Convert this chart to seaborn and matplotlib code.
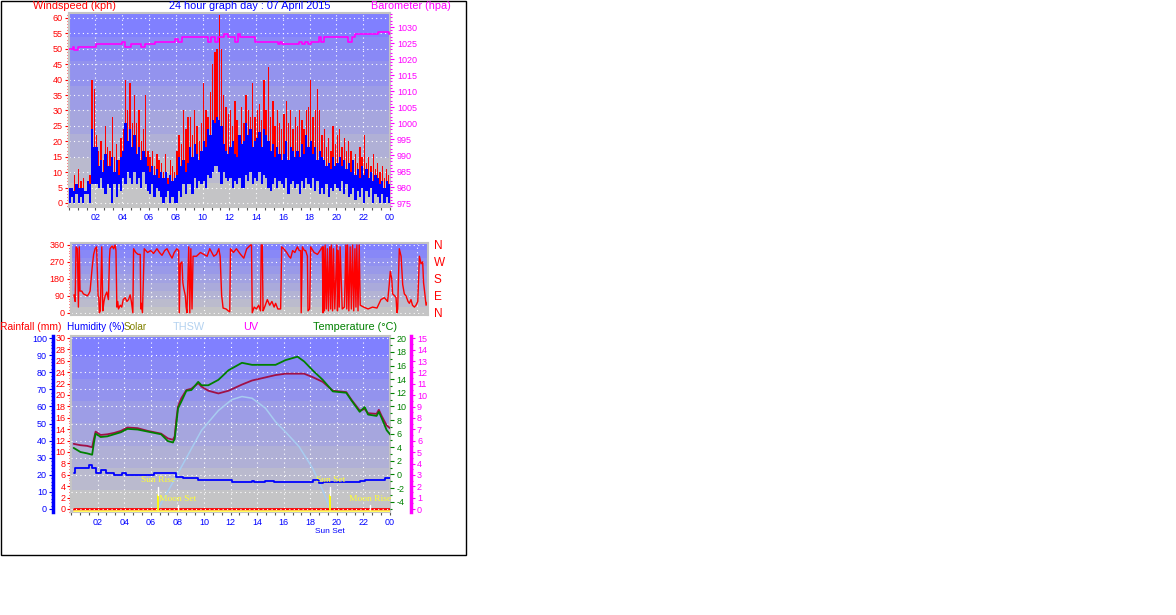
import numpy as np
import matplotlib
matplotlib.use("Agg")
import matplotlib.pyplot as plt
import matplotlib.transforms as mtransforms
from matplotlib.patches import Rectangle
from matplotlib.ticker import MultipleLocator, FixedLocator
import seaborn as sns

sns.set_style("white")
plt.rcParams['font.family'] = ['Liberation Sans', 'DejaVu Sans']
plt.rcParams['axes.unicode_minus'] = False

# ---------------- data ----------------
# wind, one value per 10 minutes (6 per hour)
gust_kph = [
    7, 5, 9, 6, 11, 7,      8, 4, 6, 9, 40, 37,     22, 17, 20, 14, 25, 18,
    17, 28, 15, 19, 14, 21, 24, 40, 30, 39, 26, 35, 26, 30, 20, 24, 35, 17,
    15, 17, 12, 16, 14, 13, 10, 16, 8, 14, 12, 10,  17, 22, 19, 30, 24, 28,
    28, 22, 30, 25, 20, 26, 39, 30, 28, 36, 45, 49, 50, 61, 50, 35, 31, 29,
    30, 25, 33, 27, 22, 31, 26, 35, 30, 28, 39, 28, 30, 32, 27, 40, 30, 44,
    28, 33, 25, 30, 26, 24, 29, 33, 26, 30, 24, 28, 25, 30, 27, 24, 30, 31,
    40, 28, 30, 37, 30, 22, 24, 18, 21, 17, 25, 19, 22, 24, 18, 21, 17, 20,
    17, 14, 16, 13, 18, 15, 22, 13, 15, 12, 16, 11, 13, 10, 12, 8, 11, 9,
]
avg_lo_kph = [
    0, 2, 0, 3, 0, 2,   0, 3, 3, 0, 6, 6,   6, 5, 8, 5, 3, 6,
    5, 0, 6, 2, 6, 4,   8, 6, 10, 8, 6, 10, 6, 8, 5, 10, 6, 4,
    3, 6, 2, 5, 4, 2,   0, 2, 4, 0, 2, 0,   0, 4, 2, 6, 3, 6,
    6, 3, 8, 5, 7, 6,   7, 5, 9, 8, 10, 12, 12, 10, 6, 10, 8, 7,
    8, 5, 7, 6, 8, 5,   5, 9, 7, 10, 6, 8,  7, 10, 6, 9, 8, 5,
    4, 6, 8, 5, 7, 6,   5, 8, 3, 6, 7, 5,   6, 3, 7, 5, 8, 6,
    5, 8, 4, 7, 3, 5,   3, 6, 2, 5, 4, 6,   5, 4, 7, 3, 6, 2,
    3, 5, 1, 4, 2, 5,   0, 4, 2, 5, 0, 3,   2, 0, 3, 0, 2, 0,
]
avg_hi_kph = [
    5, 5, 4, 6, 5, 5,       5, 4, 7, 6, 24, 18,     18, 12, 14, 10, 16, 12,
    12, 15, 10, 14, 9, 15,  17, 26, 20, 24, 18, 22, 16, 18, 14, 17, 15, 12,
    10, 12, 9, 11, 8, 10,   8, 10, 6, 9, 7, 8,      9, 15, 12, 14, 10, 13,
    18, 15, 19, 16, 14, 17, 20, 18, 24, 22, 27, 26, 28, 27, 25, 19, 17, 16,
    18, 20, 16, 15, 22, 19, 20, 26, 22, 24, 18, 20, 21, 23, 18, 24, 22, 20,
    17, 19, 15, 18, 16, 14, 16, 20, 14, 18, 17, 15, 17, 15, 19, 16, 22, 18,
    20, 16, 18, 14, 17, 15, 14, 12, 13, 11, 15, 12, 13, 15, 12, 14, 11, 13,
    10, 14, 9, 11, 8, 12,   9, 11, 8, 10, 7, 9,      8, 6, 7, 5, 7, 6,
]

baro_hours = [0.0, 0.3, 0.4, 0.73, 2.06, 4.0, 4.18, 4.63, 5.43, 5.69, 6.44,
              7.95, 8.15, 8.45, 10.41, 10.62, 10.92, 11.12, 11.62, 11.87,
              12.4, 12.63, 12.8, 13.94, 15.65, 15.82, 15.95, 17.21, 17.41,
              17.66, 17.86, 18.09, 18.67, 18.84, 19.09, 20.86, 21.18, 21.38,
              23.12, 23.95, 24.0]
baro_hpa = [1023.0, 1023.7, 1022.8, 1023.7, 1024.6, 1025.4, 1023.7, 1024.6,
            1023.7, 1024.6, 1025.4, 1026.4, 1025.4, 1026.8, 1025.4, 1026.8,
            1025.4, 1026.8, 1027.7, 1026.8, 1025.4, 1027.7, 1026.8, 1025.4,
            1024.6, 1025.4, 1024.6, 1025.4, 1024.6, 1025.4, 1024.6, 1025.4,
            1026.8, 1025.4, 1026.8, 1025.4, 1026.8, 1027.7, 1028.5, 1027.7,
            1027.7]

dir_hours = [0.22, 0.3, 0.36, 0.45, 0.52, 0.58, 0.63, 0.75, 0.86, 1.0, 1.13,
             1.22, 1.31, 1.45, 1.55, 1.65, 1.75, 1.85, 1.9, 1.94, 2.0, 2.1,
             2.17, 2.25, 2.33, 2.44, 2.55, 2.62, 2.66, 2.8, 2.9, 3.0, 3.06,
             3.12, 3.18, 3.23, 3.35, 3.45, 3.55, 3.68, 3.8, 3.91, 4.02, 4.1,
             4.2, 4.25, 4.4, 4.55, 4.7, 4.74, 4.77, 4.85, 4.97, 5.2, 5.4, 5.6,
             5.83, 6.0, 6.17, 6.35, 6.51, 6.7, 6.85, 7.0, 7.18, 7.3, 7.34,
             7.41, 7.52, 7.58, 7.64, 7.75, 7.8, 7.86, 7.98, 8.05, 8.12, 8.2,
             8.27, 8.5, 8.77, 9.0, 9.22, 9.4, 9.67, 9.85, 10.01, 10.1, 10.2,
             10.3, 10.5, 10.65, 10.75, 10.8, 11.0, 11.2, 11.48, 11.7, 11.9,
             12.16, 12.22, 12.27, 12.4, 12.55, 12.7, 12.83, 12.88, 12.95, 13.0,
             13.06, 13.2, 13.29, 13.45, 13.6, 13.75, 13.85, 14.0, 14.19, 14.26,
             14.4, 14.6, 14.75, 14.87, 15.0, 15.15, 15.32, 15.45, 15.55, 15.58,
             15.66, 15.8, 15.88, 16.0, 16.04, 16.15, 16.22, 16.45, 16.68,
             16.85, 17.01, 17.05, 17.08, 17.15, 17.2, 17.28, 17.35, 17.42,
             17.51, 17.57, 17.62, 17.7, 17.76, 17.85, 17.99, 18.03, 18.08,
             18.15, 18.21, 18.35, 18.5, 18.6, 18.66, 18.71, 18.8, 18.89, 18.97,
             19.05, 19.13, 19.21, 19.28, 19.34, 19.42, 19.5, 19.57, 19.8, 20.1,
             20.4, 20.7, 20.97, 21.2, 21.42, 21.53, 21.6, 21.7, 21.76, 21.9,
             21.99, 22.05, 22.1, 22.21, 22.33, 22.44, 22.55, 22.66, 22.8,
             22.89, 23.0, 23.1, 23.23, 23.34, 23.46, 23.57, 23.68, 23.79,
             23.85, 23.91, 24.02, 24.13]
dir_deg = [95, 60, 350, 340, 30, 350, 115, 115, 100, 95, 90,
           100, 115, 240, 310, 340, 350, 90, 80, 0, 10, 350,
           10, 60, 90, 110, 70, 290, 340, 355, 340, 360, 330,
           30, 60, 20, 40, 30, 70, 80, 60, 70, 95, 60,
           0, 340, 320, 310, 310, 20, 50, 0, 340, 320, 330, 315,
           340, 320, 305, 330, 340, 310, 290, 320, 340, 330, 0,
           260, 270, 160, 130, 90, 30, 0, 350, 0, 340, 20,
           300, 300, 320, 310, 300, 340, 300, 310, 340, 300, 95,
           25, 20, 10, 5, 340, 320, 340, 310, 290, 340,
           360, 360, 0, 30, 20, 40, 10, 360, 360, 10,
           20, 50, 70, 40, 60, 30, 50, 20, 20, 350,
           340, 320, 300, 290, 330, 320, 350, 330, 330, 0,
           350, 330, 330, 300, 10, 20, 350, 320, 310,
           330, 350, 0, 350, 10, 360, 20, 340, 10,
           350, 20, 360, 10, 340, 20, 360, 10, 330,
           30, 350, 20, 30, 360, 20, 360, 10, 350, 20,
           360, 10, 340, 30, 360, 10, 360, 40, 30, 20,
           30, 25, 70, 80, 60, 150, 220, 180, 100, 90,
           80, 0, 20, 340, 300, 150, 100, 90, 60,
           50, 70, 40, 30, 40, 60, 300, 260, 270,
           160, 120, 40, 60]

temp_hours = [0.2, 0.71, 1.21, 1.59, 1.72, 1.85, 2.23, 2.73, 3.24, 3.75, 4.25,
              5.01, 5.77, 6.78, 7.29, 7.67, 7.8, 7.92, 8.05, 8.3, 8.68, 9.06,
              9.57, 9.82, 10.33, 11.09, 11.85, 12.86, 13.62, 15.39, 16.15,
              17.04, 17.54, 18.18, 18.94, 19.7, 20.71, 21.09, 21.72, 22.1,
              22.35, 22.99, 23.16, 23.37, 23.75, 24.13]
temp_c = [3.9, 3.3, 3.1, 2.9, 4.6, 6.0, 5.5, 5.6, 5.9, 6.2, 6.7,
          6.6, 6.3, 5.9, 4.9, 4.7, 5.2, 7.3, 9.7, 10.7, 12.3, 12.4,
          13.6, 13.1, 13.1, 13.9, 15.3, 16.4, 16.1, 16.1, 16.8,
          17.3, 16.6, 15.3, 13.9, 12.2, 12.0, 10.9, 9.2, 9.9,
          8.8, 8.6, 9.2, 8.3, 6.5, 5.6]
heat_c = [4.5, 4.3, 4.2, 4.0, 5.2, 6.3, 5.8, 5.9, 6.1, 6.4, 6.9,
          6.8, 6.4, 6.0, 5.3, 5.1, 5.6, 8.0, 10.0, 11.2, 12.4, 12.6,
          13.4, 12.9, 12.3, 11.9, 12.3, 13.2, 13.8, 14.6, 14.8,
          14.8, 14.8, 14.3, 13.6, 12.3, 12.1, 11.0, 9.4, 9.6,
          9.0, 8.9, 9.5, 8.6, 7.2, 6.6]

hum_hours = [0.25, 0.33, 1.34, 1.59, 1.85, 2.23, 2.61, 3.24, 3.87, 4.13, 6.28,
             7.92, 8.43, 9.57, 12.1, 13.62, 13.8, 14.63, 15.26, 18.18, 18.68,
             18.94, 21.72, 22.1, 23.62, 24.13]
hum_pct = [21, 24, 26, 24, 21, 23, 21, 20, 21, 20, 21,
           19, 18, 17, 16, 16.5, 16, 16.5, 16, 17, 15,
           16, 16.5, 17, 18, 18]

solar_hours = [6.55, 8.05, 9.82, 11.09, 12.1, 12.86, 13.62, 14.63, 15.39,
               16.15, 17.16, 18.18, 18.94, 19.49]
solar_pct = [0, 21, 46, 57.6, 64, 65.8, 64.8, 59, 51, 45, 36.5, 23.8, 11, 0]

rain_hours = [0.2, 24.13]
rain_mm = [0, 0]
uv_index = [0, 0]

sun_rise, moon_set, sun_set, moon_rise = 6.55, 8.05, 19.5, 22.5

# ---------------- helpers ----------------
W, H = 1176, 615
PT = 0.72  # points per pixel at 100 dpi
RED, BLUE, MAG, GREEN = '#FF0000', '#0000FF', '#FF00FF', '#008000'
TICK_FS, TITLE_FS = 6.5, 7.8


def box(x0, y0, x1, y1):
    return [x0 / W, 1 - y1 / H, (x1 - x0) / W, (y1 - y0) / H]


def paint_bg(ax, n):
    top = np.array([128, 128, 255]) / 255
    bot = np.array([196, 196, 198]) / 255
    f = np.linspace(0, 1, n)[:, None]
    rgb = top * (1 - f) + bot * f
    ax.imshow(rgb[:, None, :], extent=[0, 1, 0, 1], transform=ax.transAxes,
              aspect='auto', zorder=0, interpolation='nearest')


def frame(ax):
    for s in ax.spines.values():
        s.set_color('#C4C4C4')
        s.set_linewidth(1.5)


def hide_spines(ax):
    for s in ax.spines.values():
        s.set_visible(False)


def y_ticks(ax, color, major, minor, pad=2 * PT):
    ax.yaxis.set_major_locator(MultipleLocator(major) if np.isscalar(major) else FixedLocator(major))
    ax.yaxis.set_minor_locator(MultipleLocator(minor))
    ax.tick_params(axis='y', which='both', direction='out', color=color, width=0.8,
                   labelsize=TICK_FS, labelcolor=color, pad=pad)
    ax.tick_params(axis='y', which='major', length=4 * PT)
    ax.tick_params(axis='y', which='minor', length=2 * PT)


def hour_axis(ax):
    ax.set_xlim(0, 24)
    ax.xaxis.set_major_locator(FixedLocator(range(2, 25, 2)))
    ax.xaxis.set_minor_locator(MultipleLocator(2 / 3))
    ax.set_xticklabels(['%02d' % (h % 24) for h in range(2, 25, 2)])
    ax.tick_params(axis='x', which='both', direction='out', length=3 * PT, width=0.8,
                   color='#555555', labelsize=TICK_FS, labelcolor=BLUE, pad=3 * PT,
                   bottom=True)
    ax.grid(True, axis='x', color='white', linestyle=(0, (1, 3)), linewidth=0.8)


fig = plt.figure(figsize=(W / 100, H / 100), dpi=100)
fig.patch.set_facecolor('white')

# ---------------- wind speed + barometer ----------------
ax_w = fig.add_axes(box(68.7, 13, 390, 207))
paint_bg(ax_w, 8)
gust = np.array(gust_kph)
lo = np.array(avg_lo_kph)
hi = np.array(avg_hi_kph)
wind_t = np.arange(len(gust)) / 6 + 1 / 12
ax_w.bar(wind_t, gust - lo, bottom=lo, width=0.1, color=RED, linewidth=0, zorder=2)
ax_w.bar(wind_t, hi - lo, bottom=lo, width=1 / 6, color=BLUE, linewidth=0, zorder=3)
hour_axis(ax_w)
ax_w.set_ylim(-1.3, 61.6)
y_ticks(ax_w, RED, 5, 1)
ax_w.tick_params(axis='y', left=True)
ax_w.grid(True, axis='y', color='white', linestyle=(0, (1, 3)), linewidth=0.8)
ax_w.set_axisbelow(True)
frame(ax_w)

ax_b = ax_w.twinx()
sns.lineplot(x=baro_hours, y=baro_hpa, ax=ax_b, color=MAG, linewidth=1.2,
             drawstyle='steps-post', estimator=None, sort=False)
ax_b.set_ylim(973.75, 1034.4)
y_ticks(ax_b, MAG, 5, 1, pad=3 * PT)
ax_b.tick_params(axis='y', right=True)
ax_b.set_ylabel('')
hide_spines(ax_b)

fig.text(33 / W, 1 - 6 / H, 'Windspeed (kph)', color=RED, fontsize=TITLE_FS, va='center')
fig.text(250 / W, 1 - 6 / H, '24 hour graph day : 07 April 2015', color=BLUE,
         fontsize=TITLE_FS, va='center', ha='center')
fig.text(371 / W, 1 - 6 / H, 'Barometer (hpa)', color=MAG, fontsize=TITLE_FS, va='center')

# ---------------- wind direction ----------------
ax_d = fig.add_axes(box(70.7, 242.7, 428, 315))
paint_bg(ax_d, 9)
sns.lineplot(x=dir_hours, y=dir_deg, ax=ax_d, color=RED, linewidth=1.0,
             estimator=None, sort=False)
ax_d.set_xlim(0, 24.15)
ax_d.set_ylim(-12, 372)
# dotted grid keeps the 2 hour spacing of the other panels
grid_x = np.arange(2, 27, 2) * 24.15 / 26.8
ax_d.set_xticks(grid_x)
ax_d.set_xticklabels([])
ax_d.tick_params(axis='x', length=0)
ax_d.grid(True, axis='both', color='white', linestyle=(0, (1, 3)), linewidth=0.8)
ax_d.set_axisbelow(True)
y_ticks(ax_d, RED, [0, 90, 180, 270, 360], 15)
ax_d.tick_params(axis='y', left=True)
ax_d.set_xlabel('')
ax_d.set_ylabel('')
frame(ax_d)

ax_d2 = ax_d.twinx()
ax_d2.set_ylim(-12, 372)
ax_d2.set_yticks([360, 270, 180, 90, 0])
ax_d2.set_yticklabels(['N', 'W', 'S', 'E', 'N'])
ax_d2.tick_params(axis='y', length=0, labelsize=8.5, labelcolor=RED, pad=6 * PT)
hide_spines(ax_d2)

# ---------------- rain / humidity / temperature / uv ----------------
ax_r = fig.add_axes(box(71, 335.7, 390, 512))
paint_bg(ax_r, 8)
hour_axis(ax_r)
ax_r.set_ylim(-0.53, 30.4)
y_ticks(ax_r, RED, 2, 0.5, pad=1.5 * PT)
ax_r.tick_params(axis='y', left=True)
sns.lineplot(x=rain_hours, y=rain_mm, ax=ax_r, color=RED, linewidth=2.0,
             estimator=None, sort=False, zorder=5)
ax_r.set_axisbelow(True)
frame(ax_r)

ax_h = ax_r.twinx()
hide_spines(ax_h)
ax_h.spines['left'].set_visible(True)
ax_h.spines['left'].set_position(('outward', 18.5 * PT))
ax_h.spines['left'].set_color(BLUE)
ax_h.spines['left'].set_linewidth(2.5)
ax_h.yaxis.set_ticks_position('left')
ax_h.set_ylim(-1.76, 101.4)
y_ticks(ax_h, BLUE, 10, 2, pad=1.5 * PT)
ax_h.grid(True, axis='y', color='white', linestyle=(0, (1, 3)), linewidth=0.8)
sns.lineplot(x=solar_hours, y=solar_pct, ax=ax_h, color='#A8CCF0', linewidth=1.1,
             estimator=None, sort=False)
sns.lineplot(x=hum_hours, y=hum_pct, ax=ax_h, color=BLUE, linewidth=1.3,
             drawstyle='steps-post', estimator=None, sort=False)
ax_h.set_ylabel('')

# sun / moon markers
ev = mtransforms.blended_transform_factory(ax_h.transData, ax_h.transAxes)
for t in (sun_rise, sun_set):
    ax_h.axvline(t, ymin=0.011, ymax=0.096, color='#FFFF00', linewidth=1.3)
    ax_h.axvline(t, ymin=0.096, ymax=0.142, color='white', linewidth=1.0)
for t in (moon_set, moon_rise):
    ax_h.axvline(t, ymin=0.011, ymax=0.04, color='white', linewidth=1.0)
for t, name, yy in ((sun_rise, 'Sun Rise', 0.18), (sun_set, 'Sun Set', 0.18),
                    (moon_set, 'Moon Set', 0.074), (moon_rise, 'Moon Rise', 0.074)):
    ax_h.text(t, yy, name, transform=ev, color='#FFFF30', fontsize=6.8,
              family='Liberation Serif', ha='center', va='center')

ax_t = ax_r.twinx()
hide_spines(ax_t)
sns.lineplot(x=temp_hours, y=heat_c, ax=ax_t, color='#A01048', linewidth=1.3,
             estimator=None, sort=False)
sns.lineplot(x=temp_hours, y=temp_c, ax=ax_t, color=GREEN, linewidth=1.3,
             estimator=None, sort=False)
ax_t.set_ylim(-5.51, 20.38)
y_ticks(ax_t, GREEN, 2, 1, pad=2.5 * PT)
ax_t.set_ylabel('')

ax_u = ax_r.twinx()
hide_spines(ax_u)
ax_u.spines['right'].set_visible(True)
ax_u.spines['right'].set_position(('outward', 20.5 * PT))
ax_u.spines['right'].set_color(MAG)
ax_u.spines['right'].set_linewidth(2.5)
ax_u.set_ylim(-0.26, 15.23)
y_ticks(ax_u, MAG, 1, 0.5, pad=2.5 * PT)
low = mtransforms.offset_copy(ax_u.transData, fig=fig, y=-2, units='dots')
ax_u.plot(rain_hours, uv_index, color='#FFFF60', linewidth=1.8, transform=low)
ax_u.set_xlim(0, 24)

# sunset note under the time axis, set just below the hour labels
ax_r.text(sun_set, -0.11, 'Sun Set', color=BLUE, fontsize=6,
          transform=mtransforms.blended_transform_factory(ax_r.transData, ax_r.transAxes),
          ha='center', va='center')

row = 1 - 326.5 / H
fig.text(0.5 / W, row, 'Rainfall (mm)', color=RED, fontsize=7.4, va='center')
fig.text(67 / W, row, 'Humidity (%)', color=BLUE, fontsize=7.2, va='center')
fig.text(124 / W, row, 'Solar', color='#808000', fontsize=7.2, va='center')
fig.text(173 / W, row, 'THSW', color='#B4D2F0', fontsize=TITLE_FS, va='center')
fig.text(243 / W, row, 'UV', color=MAG, fontsize=TITLE_FS, va='center')
fig.text(313 / W, row, 'Temperature (°C)', color=GREEN, fontsize=TITLE_FS, va='center')

# outer frame of the graph image
fig.patches.append(Rectangle((0.5 / W, 1 - 554.5 / H), 465 / W, 554 / H,
                             transform=fig.transFigure, fill=False,
                             edgecolor='black', linewidth=1.0))

fig.savefig('out.png', dpi=100, facecolor='white')
